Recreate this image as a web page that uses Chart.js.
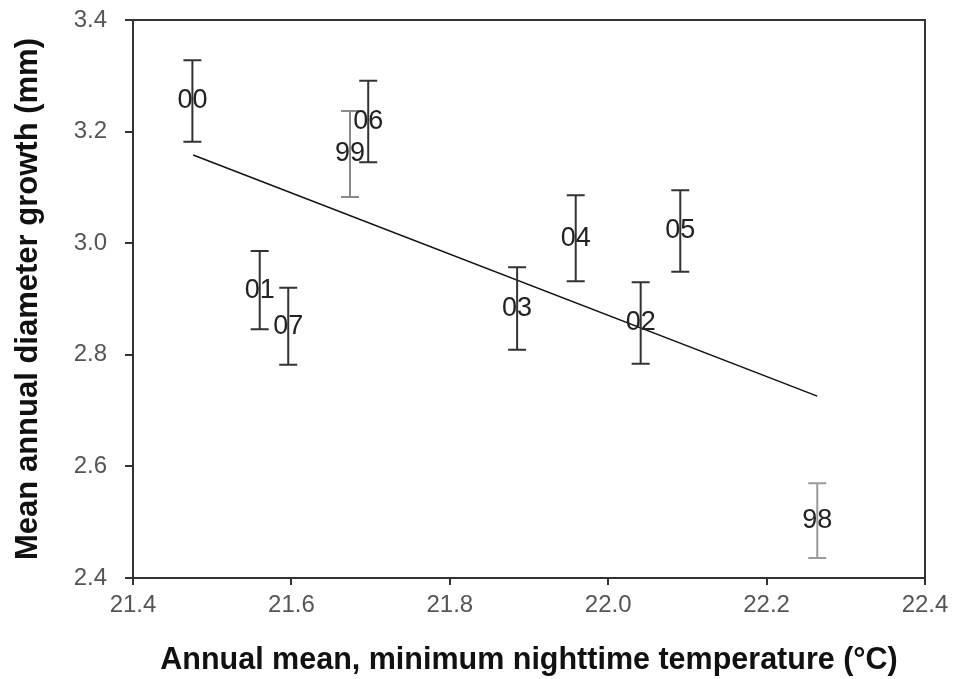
<!DOCTYPE html>
<html>
<head>
<meta charset="utf-8">
<script src="https://cdn.jsdelivr.net/npm/chart.js@4.4.1/dist/chart.umd.min.js"></script>
<style>
  html, body { margin: 0; padding: 0; background: #fff; }
</style>
</head>
<body>
<canvas id="myChart" width="969" height="679"></canvas>
<script>
// year labels, temperature (x), mean growth (y), half length of error bar
const years  = ['98', '99', '00', '01', '02', '03', '04', '05', '06', '07'];
const temps  = [22.264, 21.674, 21.475, 21.560, 22.041, 21.885, 21.959, 22.091, 21.697, 21.596];
const growth = [2.503, 3.160, 3.255, 2.916, 2.857, 2.883, 3.009, 3.022, 3.218, 2.851];
const errors = [0.067, 0.077, 0.073, 0.070, 0.073, 0.074, 0.077, 0.073, 0.073, 0.069];
const barColors = ['#9a9a9a', '#8a8a8a', '#333', '#333', '#333', '#333', '#333', '#333', '#333', '#333'];

// regression line end points
const fitX = [21.476, 22.264];
const fitY = [3.158, 2.726];

const xTicks = [21.4, 21.6, 21.8, 22.0, 22.2, 22.4];
const yTicks = [2.4, 2.6, 2.8, 3.0, 3.2, 3.4];

const errorBars = {
    id: 'errorBars',
    afterDatasetsDraw(chart) {
        const {ctx, chartArea: a, scales: {x, y}} = chart;
        ctx.save();
        // box round the plot
        ctx.strokeStyle = '#333';
        ctx.lineWidth = 2;
        ctx.strokeRect(a.left, a.top, a.right - a.left, a.bottom - a.top);

        years.forEach((yr, i) => {
            const px = x.getPixelForValue(temps[i]);
            const top = y.getPixelForValue(growth[i] + errors[i]);
            const bot = y.getPixelForValue(growth[i] - errors[i]);
            ctx.strokeStyle = barColors[i];
            ctx.lineWidth = 2;
            ctx.beginPath();
            ctx.moveTo(px, top); ctx.lineTo(px, bot);
            ctx.moveTo(px - 9, top); ctx.lineTo(px + 9, top);
            ctx.moveTo(px - 9, bot); ctx.lineTo(px + 9, bot);
            ctx.stroke();
        });

        ctx.fillStyle = '#222';
        ctx.font = '27px "Liberation Sans", Arial, sans-serif';
        ctx.textAlign = 'center';
        ctx.textBaseline = 'middle';
        years.forEach((yr, i) => {
            ctx.fillText(yr, x.getPixelForValue(temps[i]), y.getPixelForValue(growth[i]));
        });
        ctx.restore();
    }
};

const ctx = document.getElementById('myChart');

new Chart(ctx, {
    type: 'scatter',
    data: {
        datasets: [{
            label: 'years',
            data: temps.map((t, i) => ({x: t, y: growth[i]})),
            pointRadius: 0,
            pointHoverRadius: 0
        }, {
            label: 'fit',
            data: fitX.map((t, i) => ({x: t, y: fitY[i]})),
            showLine: true,
            borderColor: '#111',
            borderWidth: 1.5,
            pointRadius: 0
        }]
    },
    options: {
        responsive: false,
        animation: false,
        events: [],
        layout: { padding: { top: 20, right: 44, left: 0, bottom: 0 } },
        plugins: {
            legend: { display: false },
            tooltip: { enabled: false }
        },
        scales: {
            x: {
                type: 'linear',
                min: 21.4,
                max: 22.4,
                afterBuildTicks: (s) => { s.ticks = xTicks.map(v => ({value: v})); },
                afterFit: (s) => { s.height = 101; s.paddingLeft = 0; s.paddingRight = 0; },
                ticks: {
                    callback: (v) => v.toFixed(1),
                    color: '#555',
                    padding: 6,
                    maxRotation: 0,
                    font: { family: '"Liberation Sans", Arial, sans-serif', size: 24 }
                },
                grid: { drawOnChartArea: false, tickLength: 7, color: '#333', lineWidth: 2 },
                border: { color: '#333', width: 2 },
                title: {
                    display: true,
                    text: 'Annual mean, minimum nighttime temperature (°C)',
                    color: '#111',
                    padding: { top: 0, bottom: 0 },
                    font: { family: '"Liberation Sans", Arial, sans-serif', size: 30.5, weight: 'bold' }
                }
            },
            y: {
                type: 'linear',
                min: 2.4,
                max: 3.4,
                afterBuildTicks: (s) => { s.ticks = yTicks.map(v => ({value: v})); },
                afterFit: (s) => { s.width = 133; s.paddingTop = 0; s.paddingBottom = 0; },
                ticks: {
                    callback: (v) => v.toFixed(1),
                    color: '#555',
                    padding: 18,
                    font: { family: '"Liberation Sans", Arial, sans-serif', size: 24 }
                },
                grid: { drawOnChartArea: false, tickLength: 8, color: '#333', lineWidth: 2 },
                border: { color: '#333', width: 2 },
                title: {
                    display: true,
                    text: 'Mean annual diameter growth (mm)',
                    color: '#111',
                    padding: { top: 10, bottom: 0 },
                    font: { family: '"Liberation Sans", Arial, sans-serif', size: 31, weight: 'bold' }
                }
            }
        }
    },
    plugins: [errorBars]
});
</script>
</body>
</html>
